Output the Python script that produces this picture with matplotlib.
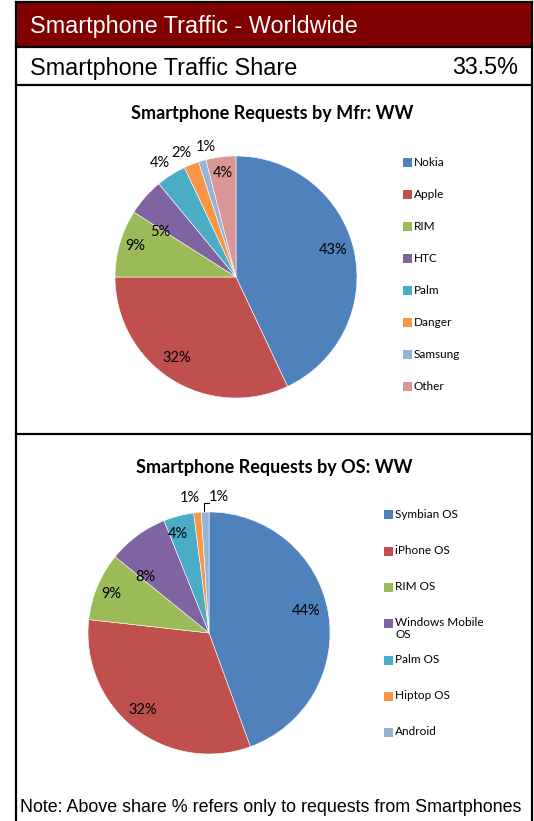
import matplotlib
matplotlib.use("Agg")
import matplotlib.pyplot as plt
import numpy as np

W, H = 534, 821

mfr_labels = ["Nokia", "Apple", "RIM", "HTC", "Palm", "Danger", "Samsung", "Other"]
mfr_values = [43, 32, 9, 5, 4, 2, 1, 4]
mfr_colors = ["#4F81BD", "#C0504D", "#9BBB59", "#8064A2", "#4BACC6", "#F79646", "#95B3D7", "#D99694"]

os_labels = ["Symbian OS", "iPhone OS", "RIM OS", "Windows Mobile\nOS", "Palm OS", "Hiptop OS", "Android"]
os_values = [44, 32, 9, 8, 4, 1, 1]
os_colors = ["#4F81BD", "#C0504D", "#9BBB59", "#8064A2", "#4BACC6", "#F79646", "#95B3D7"]

traffic_share = "33.5%"

fig = plt.figure(figsize=(W / 100, H / 100), dpi=100)

# background axes in pixel coordinates
bg = fig.add_axes([0, 0, 1, 1])
bg.set_xlim(0, W)
bg.set_ylim(H, 0)
bg.axis("off")

bg.add_patch(plt.Rectangle((16, 2), 516, 45, facecolor="#800000", edgecolor="none"))
lw = 1.6
bg.plot([16, 532], [2, 2], color="black", lw=lw)
bg.plot([16, 16], [2, H + 5], color="black", lw=lw)
bg.plot([532, 532], [2, H + 5], color="black", lw=lw)
for y in (47, 85, 434):
    bg.plot([16, 532], [y, y], color="black", lw=lw)

sans = ["Liberation Sans", "DejaVu Sans"]
cal = ["Lato", "DejaVu Sans"]
bg.text(30, 26, "Smartphone Traffic - Worldwide", color="white", fontsize=16.8,
        family=sans, va="center", ha="left")
bg.text(30, 68, "Smartphone Traffic Share", color="black", fontsize=16.8,
        family=sans, va="center", ha="left")
bg.text(518, 68, traffic_share, color="black", fontsize=16.8,
        family=sans, va="center", ha="right")
bg.text(20, 808, "Note: Above share % refers only to requests from Smartphones",
        color="black", fontsize=12.9, family=sans, va="center", ha="left")

bg.text(272, 113, "Smartphone Requests by Mfr: WW", fontsize=13, fontweight="bold",
        family=cal, ha="center", va="center")
bg.text(274, 468, "Smartphone Requests by OS: WW", fontsize=13, fontweight="bold",
        family=cal, ha="center", va="center")


def draw_pie(cx, cy, r, values, colors, dists, shifts):
    ax = fig.add_axes([(cx - r) / W, 1 - (cy + r) / H, 2 * r / W, 2 * r / H])
    wedges, _ = ax.pie(values, colors=colors, startangle=90, counterclock=False,
                       wedgeprops=dict(edgecolor="white", linewidth=0.4))
    for w, v, d, s in zip(wedges, values, dists, shifts):
        ang = np.deg2rad((w.theta1 + w.theta2) / 2 + s)
        ax.text(d * np.cos(ang), d * np.sin(ang), f"{v}%", ha="center", va="center",
                fontsize=10.5, family=cal)
    ax.set_xlim(-1, 1)
    ax.set_ylim(-1, 1)
    ax.axis("off")
    return ax


def draw_legend(x, y0, step, labels, colors):
    for i, (lab, c) in enumerate(zip(labels, colors)):
        y = y0 + i * step
        bg.add_patch(plt.Rectangle((x, y - 4.5), 9, 9, facecolor=c, edgecolor="none"))
        bg.text(x + 11, y - 6.5, lab, fontsize=8.5, family=cal, ha="left", va="top",
                linespacing=1.05)


draw_pie(236, 277, 121, mfr_values, mfr_colors,
         [0.83, 0.83, 0.87, 0.73, 1.13, 1.12, 1.1, 0.87],
         [3, -4, -1, 11, 1.3, 2, -3, 0])
draw_legend(403, 163, 32, mfr_labels, mfr_colors)

draw_pie(209, 633, 121, os_values, os_colors,
         [0.82, 0.84, 0.87, 0.70, 0.86, 1.13, 1.13],
         [3, -2.4, 1, 12, 3, 2.5, -6])
draw_legend(384, 515, 36.3, os_labels, os_colors)
# leader line for the Android label
bg.plot([204, 204, 209], [511, 503, 503], color="black", lw=0.8)

fig.savefig("out.png", dpi=100)
